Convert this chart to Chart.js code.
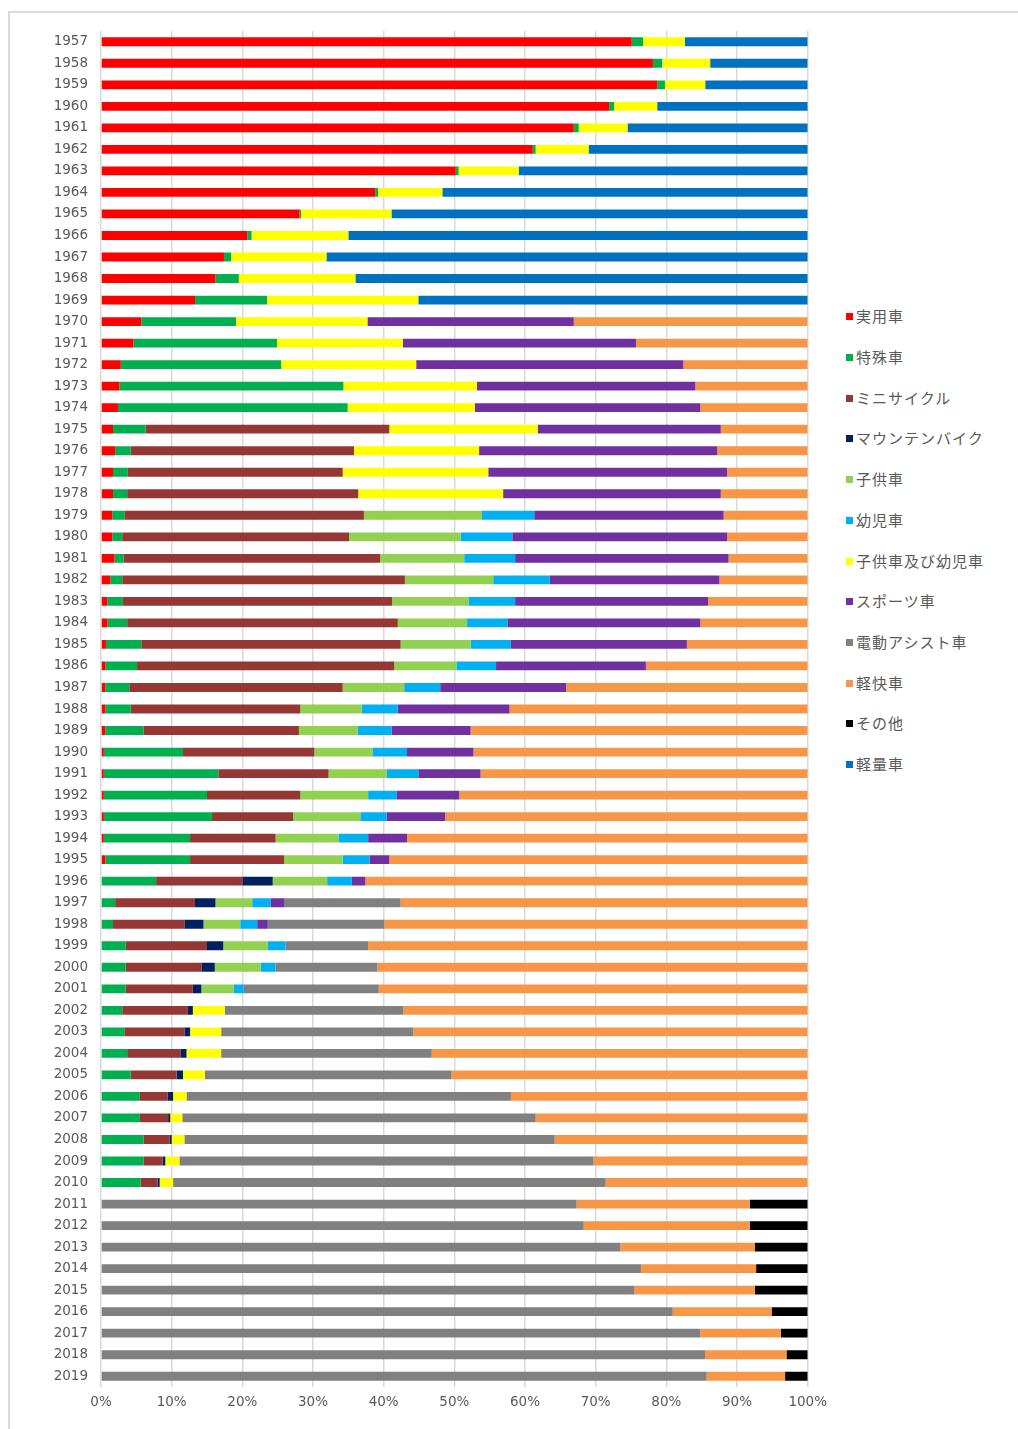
<!DOCTYPE html>
<html><head><meta charset="utf-8">
<script src="https://cdn.jsdelivr.net/npm/chart.js@4.4.1/dist/chart.umd.min.js"></script>
<style>
html,body{margin:0;padding:0;background:#fff;width:1018px;height:1429px;overflow:hidden;position:relative;}
#frame{position:absolute;left:8px;top:11px;width:1030px;height:1440px;border-left:2px solid #d9d9d9;border-top:2px solid #d9d9d9;}
#wrap{position:absolute;left:0;top:0;width:834px;height:1429px;}
#legend{position:absolute;left:846px;top:0;font-family:'Noto Sans CJK JP',sans-serif;font-size:15px;color:#595959;letter-spacing:1px;}
.item{position:absolute;left:0;white-space:nowrap;height:20px;line-height:20px;}
.sw{display:inline-block;width:7px;height:7px;margin-right:3px;vertical-align:middle;position:relative;top:-1px;}
</style></head>
<body>
<div id="frame"></div>
<div id="wrap"><canvas id="c"></canvas></div>
<div id="legend"></div>
<script>
const years = ["1957","1958","1959","1960","1961","1962","1963","1964","1965","1966","1967","1968","1969","1970","1971","1972","1973","1974","1975","1976","1977","1978","1979","1980","1981","1982","1983","1984","1985","1986","1987","1988","1989","1990","1991","1992","1993","1994","1995","1996","1997","1998","1999","2000","2001","2002","2003","2004","2005","2006","2007","2008","2009","2010","2011","2012","2013","2014","2015","2016","2017","2018","2019"];
const seriesNames = ["実用車","特殊車","ミニサイクル","マウンテンバイク","子供車","幼児車","子供車及び幼児車","スポーツ車","電動アシスト車","軽快車","その他","軽量車"];
const seriesColors = ["#FF0000","#00B050","#953735","#002060","#92D050","#00B0F0","#FFFF00","#7030A0","#808080","#F79646","#000000","#0070C0"];
const xTicks = [0,10,20,30,40,50,60,70,80,90,100];

// 1957 ... 2019
const jitsuyou = [75.1,78.1,78.7,71.9,66.9,61.1,50.2,38.8,28.1,20.7,17.4,16.2,13.3,5.7,4.6,2.8,2.6,2.4,1.7,2.0,1.7,1.7,1.6,1.6,1.9,1.3,0.9,0.9,0.7,0.6,0.6,0.6,0.6,0.4,0.4,0.4,0.4,0.4,0.6,0,0,0,0,0,0,0,0,0,0,0,0,0,0,0,0,0,0,0,0,0,0,0,0];
const tokushu = [1.6,1.3,1.1,0.7,0.7,0.4,0.4,0.4,0.2,0.6,1.0,3.3,10.2,13.4,20.3,22.7,31.7,32.5,4.6,2.2,2.1,2.0,1.7,1.4,1.3,1.7,2.2,2.8,5.0,4.5,3.4,3.6,5.4,11.2,16.2,14.6,15.3,12.2,12.0,7.8,2.0,1.7,3.5,3.5,3.5,3.0,3.3,3.7,4.2,5.5,5.5,6.0,6.0,5.6,0,0,0,0,0,0,0,0,0];
const mini = [0,0,0,0,0,0,0,0,0,0,0,0,0,0,0,0,0,0,34.5,31.6,30.4,32.7,33.9,32.1,36.3,40.0,38.1,38.3,36.7,36.4,30.2,24.0,22.0,18.6,15.6,13.2,11.5,12.1,13.3,12.2,11.3,10.1,11.5,10.7,9.5,9.3,8.5,7.6,6.5,3.9,4.0,3.7,2.7,2.4,0,0,0,0,0,0,0,0,0];
const mtb = [0,0,0,0,0,0,0,0,0,0,0,0,0,0,0,0,0,0,0,0,0,0,0,0,0,0,0,0,0,0,0,0,0,0,0,0,0,0,0,4.3,2.9,2.7,2.3,1.9,1.2,0.7,0.8,0.8,0.9,0.8,0.3,0.3,0.4,0.3,0,0,0,0,0,0,0,0,0];
const kodomo = [0,0,0,0,0,0,0,0,0,0,0,0,0,0,0,0,0,0,0,0,0,0,16.7,15.8,11.9,12.5,10.8,9.8,9.9,8.8,8.7,8.7,8.3,8.2,8.2,9.6,9.5,8.9,8.3,7.7,5.2,5.2,6.3,6.5,4.6,0,0,0,0,0,0,0,0,0,0,0,0,0,0,0,0,0,0];
const youji = [0,0,0,0,0,0,0,0,0,0,0,0,0,0,0,0,0,0,0,0,0,0,7.4,7.3,7.2,8.0,6.6,5.7,5.7,5.6,5.1,5.1,4.8,4.9,4.5,4.0,3.7,4.2,3.8,3.5,2.6,2.4,2.5,2.1,1.4,0,0,0,0,0,0,0,0,0,0,0,0,0,0,0,0,0,0];
const kodomoYouji = [5.9,6.8,5.7,6.1,6.9,7.5,8.5,9.1,12.8,13.7,13.5,16.5,21.4,18.6,17.8,19.1,18.9,18.0,21.0,17.7,20.6,20.5,0,0,0,0,0,0,0,0,0,0,0,0,0,0,0,0,0,0,0,0,0,0,0,4.5,4.4,4.9,3.1,1.9,1.7,1.8,2.0,1.9,0,0,0,0,0,0,0,0,0];
const sports = [0,0,0,0,0,0,0,0,0,0,0,0,0,29.2,33.0,37.8,30.9,31.9,25.9,33.7,33.8,30.8,26.8,30.4,30.2,24.0,27.3,27.3,24.9,21.2,17.8,15.8,11.2,9.4,8.8,8.9,8.3,5.5,2.8,1.9,1.9,1.5,0,0,0,0,0,0,0,0,0,0,0,0,0,0,0,0,0,0,0,0,0];
const dendou = [0,0,0,0,0,0,0,0,0,0,0,0,0,0,0,0,0,0,0,0,0,0,0,0,0,0,0,0,0,0,0,0,0,0,0,0,0,0,0,0,16.5,16.5,11.7,14.4,19.1,25.3,27.2,29.8,34.9,45.9,50.0,52.4,58.6,61.2,67.3,68.3,73.5,76.4,75.5,80.9,84.8,85.5,85.7];
const keikai = [0,0,0,0,0,0,0,0,0,0,0,0,0,33.1,24.3,17.6,15.9,15.2,12.3,12.8,11.4,12.3,11.9,11.4,11.2,12.5,14.1,15.2,17.1,22.9,34.2,42.2,47.7,47.3,46.3,49.3,51.3,56.7,59.2,62.6,57.6,59.9,62.2,60.9,60.7,57.2,55.8,53.2,50.4,42.0,38.5,35.8,30.3,28.6,24.5,23.5,19.0,16.3,17.0,14.0,11.4,11.5,11.1];
const sonota = [0,0,0,0,0,0,0,0,0,0,0,0,0,0,0,0,0,0,0,0,0,0,0,0,0,0,0,0,0,0,0,0,0,0,0,0,0,0,0,0,0,0,0,0,0,0,0,0,0,0,0,0,0,0,8.2,8.2,7.5,7.3,7.5,5.1,3.8,3.0,3.2];
const keiryou = [17.4,13.8,14.5,21.3,25.5,31.0,40.9,51.7,58.9,65.0,68.1,64.0,55.1,0,0,0,0,0,0,0,0,0,0,0,0,0,0,0,0,0,0,0,0,0,0,0,0,0,0,0,0,0,0,0,0,0,0,0,0,0,0,0,0,0,0,0,0,0,0,0,0,0,0];

const seriesValues = [jitsuyou,tokushu,mini,mtb,kodomo,youji,kodomoYouji,sports,dendou,keikai,sonota,keiryou];

const datasets = seriesNames.map((n,i)=>({
  label:n, data:seriesValues[i], backgroundColor:seriesColors[i],
  borderWidth:0, barPercentage:0.41, categoryPercentage:1.0
}));

const tickFont = {family:"'DejaVu Sans', sans-serif", size:13.5};

new Chart(document.getElementById('c'), {
  type:'bar',
  data:{labels:years, datasets},
  options:{
    indexAxis:'y', responsive:true, maintainAspectRatio:false, animation:false,
    layout:{padding:{top:31,right:19,left:0,bottom:0}},
    plugins:{legend:{display:false}, tooltip:{enabled:false}},
    scales:{
      x:{stacked:true, min:0, max:100, position:'bottom',
        afterBuildTicks:(s)=>{ s.ticks = xTicks.map(v=>({value:v})); },
        afterFit:(s)=>{ s.height = 42; },
        grid:{color:'#d9d9d9', lineWidth:1.5, drawTicks:false},
        border:{display:false},
        ticks:{color:'#595959', font:tickFont, padding:7, maxRotation:0, callback:(v)=>v+'%'}
      },
      y:{stacked:true,
        afterFit:(s)=>{ s.width = 101; },
        grid:{display:false, drawTicks:false},
        border:{display:false},
        ticks:{color:'#595959', font:tickFont, padding:13, autoSkip:false}
      }
    }
  }
});

const lg = document.getElementById('legend');
const legendY = [316,357,398,438,479,520,561,601,642,683,723,764];
seriesNames.forEach((n,i)=>{
  const d = document.createElement('div');
  d.className='item';
  d.style.top = (legendY[i]-10)+'px';
  const s = document.createElement('span');
  s.className='sw'; s.style.background = seriesColors[i];
  d.appendChild(s);
  d.appendChild(document.createTextNode(n));
  lg.appendChild(d);
});
</script>
</body></html>
